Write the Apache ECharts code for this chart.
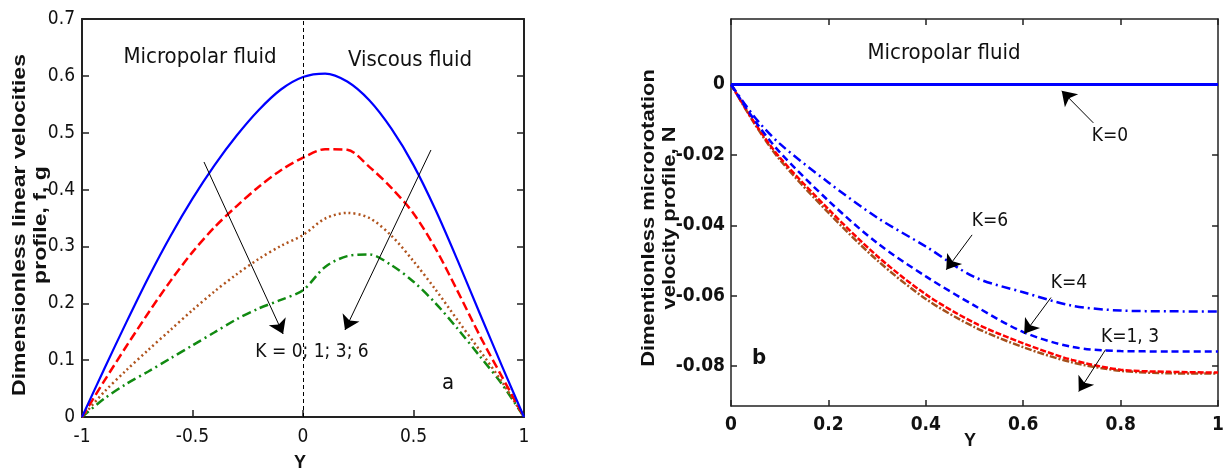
<!DOCTYPE html>
<html>
<head>
<meta charset="utf-8">
<script src="https://cdn.jsdelivr.net/npm/echarts@6/dist/echarts.min.js"></script>
<style>
  html, body { margin: 0; padding: 0; background: #fff; }
  #chart { width: 1227px; height: 475px; }
</style>
</head>
<body>
<div id="chart"></div>
<script>
// ---- panel a : linear velocity profiles f, g ----
var yLeft = [-1, -0.9, -0.8, -0.7, -0.6, -0.5, -0.4, -0.3, -0.2, -0.1, 0,
             0.1, 0.2, 0.3, 0.4, 0.5, 0.6, 0.7, 0.8, 0.9, 1];
var fK0 = [0, 0.084, 0.166, 0.245, 0.318, 0.384, 0.443, 0.495, 0.540, 0.576, 0.598,
           0.604, 0.590, 0.557, 0.507, 0.443, 0.364, 0.275, 0.182, 0.090, 0];
var fK1 = [0, 0.063, 0.124, 0.183, 0.239, 0.290, 0.334, 0.371, 0.405, 0.434, 0.456,
           0.471, 0.470, 0.440, 0.403, 0.358, 0.296, 0.221, 0.143, 0.071, 0];
var fK3 = [0, 0.044, 0.082, 0.118, 0.153, 0.188, 0.221, 0.251, 0.278, 0.301, 0.320,
           0.349, 0.359, 0.350, 0.319, 0.274, 0.224, 0.170, 0.117, 0.062, 0];
var fK6 = [0, 0.032, 0.058, 0.080, 0.103, 0.126, 0.149, 0.172, 0.191, 0.206, 0.223,
           0.264, 0.283, 0.286, 0.267, 0.238, 0.200, 0.155, 0.107, 0.058, 0];
var ticksLeftX = [-1, 1, 0.5];     // min, max, step
var ticksLeftY = [0, 0.7, 0.1];

// ---- panel b : microrotation N ----
var yRight = [0, 0.05, 0.1, 0.2, 0.3, 0.4, 0.5, 0.6, 0.7, 0.8, 0.9, 1];
var nK0 = [0, 0, 0, 0, 0, 0, 0, 0, 0, 0, 0, 0];
var nK1 = [0, -0.0115, -0.0213, -0.0364, -0.0499, -0.0609, -0.0689, -0.0746, -0.0789, -0.0813, -0.0820, -0.0821];
var nK3 = [0, -0.0112, -0.0207, -0.0354, -0.0487, -0.0596, -0.0677, -0.0735, -0.0782, -0.0810, -0.0816, -0.0818];
var nK4 = [0, -0.0105, -0.0192, -0.0330, -0.0450, -0.0545, -0.0628, -0.0703, -0.0745, -0.0757, -0.0758, -0.0758];
var nK6 = [0, -0.0095, -0.0168, -0.0278, -0.0378, -0.0460, -0.0547, -0.0590, -0.0628, -0.0642, -0.0644, -0.0645];
var ticksRightY = [-0.08, -0.06, -0.04, -0.02, 0];
var rangeRightY = [-0.0913, 0.0186];

function pts(xs, ys) {
    return xs.map(function (x, i) { return [x, ys[i]]; });
}

var narrow = "'Liberation Sans Narrow', 'DejaVu Sans Condensed', 'Liberation Sans', sans-serif";
var plain = "'Liberation Sans', Arial, sans-serif";
var axisCol = '#222';

function boxAxis(grid, pos, lw, extra) {
    var a = {
        gridIndex: grid, type: 'value', position: pos,
        axisLine: { show: true, onZero: false, lineStyle: { color: axisCol, width: lw } },
        axisTick: { show: false },
        axisLabel: { show: false },
        splitLine: { show: false }
    };
    for (var k in extra) a[k] = extra[k];
    return a;
}

function line(name, xi, yi, data, color, width, dash) {
    return {
        name: name, type: 'line', xAxisIndex: xi, yAxisIndex: yi,
        data: data, showSymbol: false, smooth: 0.3,
        itemStyle: { color: color },
        lineStyle: { color: color, width: width, type: dash || 'solid' },
        silent: true
    };
}

function arrows(list) {
    return {
        silent: true, symbol: ['none', 'arrow'], symbolSize: 14,
        label: { show: false },
        itemStyle: { color: '#000' },
        lineStyle: { color: '#000', width: 1, type: 'solid' },
        data: list.map(function (a) { return [{ coord: a[0] }, { coord: a[1] }]; })
    };
}

function txt(x, y, s, size, weight, family, rot, lh, sx) {
    return {
        type: 'text', x: x, y: y, rotation: rot || 0, scaleX: sx || 1, silent: true,
        style: {
            text: s, fontSize: size, fontWeight: weight || 'normal', fontFamily: family,
            fill: '#111', textAlign: 'center', textVerticalAlign: 'middle',
            align: 'center', verticalAlign: 'middle', lineHeight: lh || size
        }
    };
}

var chart = echarts.init(document.getElementById('chart'));

var option = {
    animation: false,
    backgroundColor: '#fff',
    grid: [
        { left: 82, top: 19, width: 442, height: 398 },
        { left: 731, top: 19, width: 489, height: 387 }
    ],
    xAxis: [
        boxAxis(0, 'bottom', 2, {
            min: ticksLeftX[0], max: ticksLeftX[1], interval: ticksLeftX[2],
            axisTick: { show: true, inside: true, length: 7, lineStyle: { color: axisCol, width: 1.5 } },
            axisLabel: { show: true, margin: 11, fontSize: 19, fontFamily: narrow, color: '#111' }
        }),
        boxAxis(0, 'top', 2, { min: ticksLeftX[0], max: ticksLeftX[1], interval: ticksLeftX[2] }),
        boxAxis(1, 'bottom', 1.5, {
            min: 0, max: 1, interval: 0.2,
            axisTick: { show: true, inside: true, length: 6, lineStyle: { color: axisCol, width: 1.5 } },
            axisLabel: { show: true, margin: 10, fontSize: 19, fontWeight: 'bold', fontFamily: narrow, color: '#111' }
        }),
        boxAxis(1, 'top', 1.5, {
            min: 0, max: 1, interval: 0.2,
            axisTick: { show: true, inside: true, length: 6, lineStyle: { color: axisCol, width: 1.5 } }
        })
    ],
    yAxis: [
        boxAxis(0, 'left', 2, {
            min: ticksLeftY[0], max: ticksLeftY[1], interval: ticksLeftY[2],
            axisTick: { show: true, inside: true, length: 7, lineStyle: { color: axisCol, width: 1.5 } },
            axisLabel: { show: true, margin: 7, fontSize: 19, fontFamily: narrow, color: '#111' }
        }),
        boxAxis(0, 'right', 2, {
            min: ticksLeftY[0], max: ticksLeftY[1], interval: ticksLeftY[2],
            axisTick: { show: true, inside: true, length: 7, lineStyle: { color: axisCol, width: 1.5 } }
        }),
        boxAxis(1, 'left', 1.5, {
            min: rangeRightY[0], max: rangeRightY[1],
            axisTick: { show: true, inside: true, length: 6, customValues: ticksRightY,
                        lineStyle: { color: axisCol, width: 1.5 } },
            axisLabel: { show: true, margin: 6, fontSize: 19, fontWeight: 'bold', fontFamily: narrow, color: '#111',
                         customValues: ticksRightY,
                         formatter: function (v) { return v === 0 ? '0' : (+v).toFixed(2); } }
        }),
        boxAxis(1, 'right', 1.5, {
            min: rangeRightY[0], max: rangeRightY[1],
            axisTick: { show: true, inside: true, length: 6, customValues: ticksRightY,
                        lineStyle: { color: axisCol, width: 1.5 } }
        })
    ],
    series: [
        line('K=6', 0, 0, pts(yLeft, fK6), '#118a11', 2.5, [9, 4, 2, 4]),
        line('K=3', 0, 0, pts(yLeft, fK3), '#b0541e', 2.5, [2, 3]),
        line('K=1', 0, 0, pts(yLeft, fK1), '#ff0000', 2.5, [9, 4]),
        (function () {
            var s = line('K=0', 0, 0, pts(yLeft, fK0), '#0000ff', 2.2);
            s.markLine = arrows([
                [[-0.448, 0.4485], [-0.090, 0.146]],
                [[0.579, 0.4696], [0.190, 0.153]]
            ]);
            s.markLine.data.push([
                { coord: [0, 0], symbol: 'none', lineStyle: { type: [4, 3], width: 1, color: '#000' } },
                { coord: [0, 0.7], symbol: 'none' }
            ]);
            return s;
        })(),
        line('N K=1', 2, 2, pts(yRight, nK1), '#a5501c', 2.5, [7, 2, 2, 2]),
        line('N K=3', 2, 2, pts(yRight, nK3), '#ff0000', 2.5, [6, 2]),
        line('N K=4', 2, 2, pts(yRight, nK4), '#0000ff', 2.5, [7, 4]),
        line('N K=6', 2, 2, pts(yRight, nK6), '#0000ff', 2.5, [9, 4, 2, 4]),
        (function () {
            var s = line('N K=0', 2, 2, pts(yRight, nK0), '#0000ff', 3);
            s.markLine = arrows([
                [[0.744, -0.0109], [0.679, -0.0018]],
                [[0.495, -0.0427], [0.442, -0.0526]],
                [[0.657, -0.0605], [0.602, -0.0708]],
                [[0.769, -0.0753], [0.714, -0.0872]]
            ]);
            return s;
        })()
    ],
    graphic: [
        txt(31, 225, 'Dimensionless linear velocities\nprofile, f, g', 18, 'bold', plain, Math.PI / 2, 21, 1.28),
        txt(300, 463, 'Y', 18, 'bold', plain),
        txt(200, 57, 'Micropolar fluid', 22, 'normal', narrow),
        txt(410, 60, 'Viscous fluid', 22, 'normal', narrow),
        txt(312, 352, 'K = 0; 1; 3; 6', 19, 'normal', narrow),
        txt(448, 383, 'a', 22, 'normal', narrow),

        txt(660, 218, 'Dimentionless microrotation\nvelocity profile, N', 18, 'bold', plain, Math.PI / 2, 21, 1.22),
        txt(970, 441, 'Y', 18, 'bold', plain),
        txt(944, 53, 'Micropolar fluid', 22, 'normal', narrow),
        txt(1110, 136, 'K=0', 19, 'normal', narrow),
        txt(990, 221, 'K=6', 19, 'normal', narrow),
        txt(1069, 283, 'K=4', 19, 'normal', narrow),
        txt(1130, 337, 'K=1, 3', 19, 'normal', narrow),
        txt(759, 358, 'b', 22, 'bold', narrow)
    ]
};

chart.setOption(option);
</script>
</body>
</html>
